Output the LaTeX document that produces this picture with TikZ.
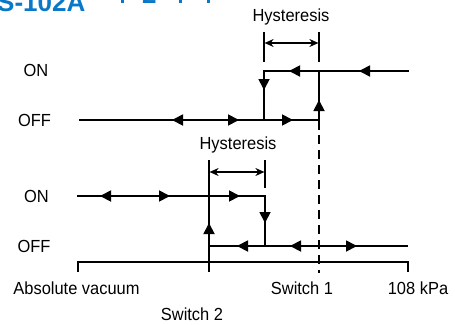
\documentclass[tikz,border=0pt]{standalone}
\usepackage{fontspec}
\setmainfont{Liberation Sans}
\usetikzlibrary{arrows.meta}
\definecolor{titleblue}{RGB}{10,120,200}
\newcommand\lbl[1]{{\fontsize{17.5}{20}\selectfont\scalebox{0.94}[1]{#1}}}
\tikzset{
  mainline/.style={line width=1.8pt, line cap=rect},
  thinline/.style={line width=1.1pt},
  dimarrow/.style={line width=1.1pt, {Stealth[length=9pt,width=8pt]}-{Stealth[length=9pt,width=8pt]}, shorten <=0.6pt, shorten >=0.6pt},
  headtip/.style={line width=1.8pt, -{Triangle[length=11pt,width=11pt]}},
  lab/.style={inner sep=0pt, font=\fontsize{17.5}{20}\selectfont},
  titletext/.style={inner sep=0pt, text=titleblue, font=\fontsize{26}{30}\selectfont\bfseries}
}
\newcommand\tipLeft[2]{\draw[headtip] ({#1+13},#2) -- (#1,#2);}
\newcommand\tipRight[2]{\draw[headtip] ({#1-13},#2) -- (#1,#2);}
\newcommand\tipUp[2]{\draw[headtip] (#1,{#2+13}) -- (#1,#2);}
\newcommand\tipDown[2]{\draw[headtip] (#1,{#2-13}) -- (#1,#2);}
\begin{document}
\begin{tikzpicture}[x=1pt,y=-1pt]
\useasboundingbox (0,0) rectangle (455,324);
% cropped title
\node[titletext, anchor=base west] (title) at (-3,12) {S-102A};
\node[titletext, anchor=base west] (title2) at (142,4) {2};
\fill[titleblue] (121,0) rectangle (124,2.5);
\fill[titleblue] (179,0) rectangle (182,2.5);
\fill[titleblue] (207,0) rectangle (210,2.5);

% ---------- Switch 1 (top) ----------
\coordinate (a1) at (80,120);
\coordinate (b1) at (264,120);
\coordinate (c1) at (319,120);
\coordinate (d1) at (264,71);
\coordinate (e1) at (319,71);
\coordinate (f1) at (408,71);
\coordinate (t1a) at (264,32);
\coordinate (t1b) at (264,62);
\coordinate (t2a) at (319,32);
\coordinate (t2b) at (319,62);
\coordinate (s1a) at (319,130);
\coordinate (s1b) at (319,273);

\node[lab] (on1) at (36,70) {\lbl{ON}};
\node[lab] (off1) at (34.5,120.5) {\lbl{OFF}};
\node[lab] (hys1) at (291,17) {\lbl{Hysteresis}};

\draw[thinline] (t1a) -- (t1b);
\draw[thinline] (t2a) -- (t2b);
\draw[dimarrow] (264,43) -- (319,43);

\draw[mainline] (a1) -- (c1) -- (e1);
\draw[mainline] (b1) -- (d1) -- (f1);
\draw[thinline] (c1) -- (s1a);
\draw[thinline, dash pattern=on 9pt off 6pt, dash phase=-5pt] (s1a) -- (s1b);

\tipLeft{289}{71}
\tipLeft{359}{71}
\tipDown{264}{90}
\tipUp{319}{100}
\tipLeft{172}{120}
\tipRight{239}{120}
\tipRight{293}{120}

% ---------- Switch 2 (bottom) ----------
\coordinate (a2) at (78,196);
\coordinate (b2) at (209,196);
\coordinate (c2) at (265,196);
\coordinate (d2) at (209,246);
\coordinate (e2) at (265,246);
\coordinate (f2) at (407,246);
\coordinate (u1a) at (209,160);
\coordinate (u2a) at (265,160);
\coordinate (u2b) at (265,188);
\coordinate (s2b) at (209,272);

\node[lab] (on2) at (36.5,196) {\lbl{ON}};
\node[lab] (off2) at (34,246.5) {\lbl{OFF}};
\node[lab] (hys2) at (238,145) {\lbl{Hysteresis}};

\draw[thinline] (u1a) -- (b2);
\draw[thinline] (u2a) -- (u2b);
\draw[dimarrow] (209,172) -- (265,172);

\draw[mainline] (a2) -- (c2) -- (e2);
\draw[mainline] (b2) -- (d2) -- (f2);
\draw[thinline] (d2) -- (s2b);

\tipLeft{100}{196}
\tipRight{170}{196}
\tipRight{240}{196}
\tipDown{265}{223}
\tipUp{209}{223}
\tipLeft{237}{246}
\tipLeft{290}{246}
\tipRight{357}{246}

% ---------- axis ----------
\coordinate (x0) at (78,262);
\coordinate (x1) at (408,262);
\draw[line width=1.6pt] (78,272) -- (x0) -- (x1) -- (408,272);

\node[lab] (absvac) at (76.5,288.5) {\lbl{Absolute vacuum}};
\node[lab] (sw1) at (302,288.5) {\lbl{Switch 1}};
\node[lab] (kpa) at (418,288.5) {\lbl{108 kPa}};
\node[lab] (sw2) at (192,314.5) {\lbl{Switch 2}};
\end{tikzpicture}
\end{document}
